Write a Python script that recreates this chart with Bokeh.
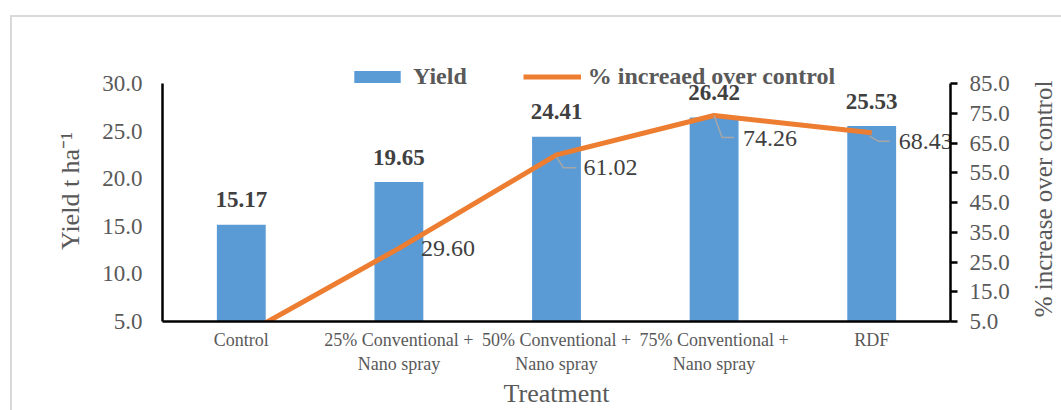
import math
from bokeh.plotting import figure
from bokeh.layouts import row
from bokeh.models import (FactorRange, Range1d, LinearAxis, ColumnDataSource,
                          Legend, LegendItem, FixedTicker, NumeralTickFormatter)
from bokeh.core.properties import value
from bokeh.embed import file_html
from bokeh.resources import INLINE

# ---------------- data ----------------
treatments = ["Control", "25% Conventional +\nNano spray", "50% Conventional +\nNano spray",
              "75% Conventional +\nNano spray", "RDF"]
yield_t_ha = [15.17, 19.65, 24.41, 26.42, 25.53]
pct_increase = [0.00, 29.60, 61.02, 74.26, 68.43]
yield_ticks = [5, 10, 15, 20, 25, 30]
pct_ticks = [5, 15, 25, 35, 45, 55, 65, 75, 85]
right_title = "% increase over control"

# label styling (screen offsets, px) for the % labels of points 2..5
lab_dx = [22, 27, 29, 27]
lab_dy = [0, 13, 23, 8.5]

FONT = "Liberation Serif"
GREY = "#595959"
DARK = "#404040"
BLUE = "#5B9BD5"
ORANGE = "#ED7D31"

# frame extends a little above the axes' top so the legend is not clipped
FRAME_PX = 238.0
TOP_PAD_PX = 23.0
pad = TOP_PAD_PX / FRAME_PX
y_end = yield_ticks[-1] + (yield_ticks[-1] - yield_ticks[0]) * pad
pct_end = pct_ticks[-1] + (pct_ticks[-1] - pct_ticks[0]) * pad

W_MAIN = 1013
W_SIDE = 36
H = 393

p = figure(width=W_MAIN, height=H, x_range=FactorRange(*treatments),
           y_range=Range1d(yield_ticks[0], y_end),
           output_backend="svg", toolbar_location=None,
           min_border_left=150, min_border_right=75, min_border_top=43, min_border_bottom=89)
p.extra_y_ranges = {"pct": Range1d(pct_ticks[0], pct_end)}

src = ColumnDataSource(dict(t=treatments, y=yield_t_ha, pct=pct_increase,
                            ylab=["%.2f" % v for v in yield_t_ha]))

bars = p.vbar(x="t", top="y", bottom=0, width=0.31, source=src,
              fill_color=BLUE, line_color=None)
line = p.line(x="t", y="pct", source=src, y_range_name="pct",
              line_width=5, line_color=ORANGE, line_join="round")

# bar value labels
p.text(x="t", y="y", text="ylab", source=src, y_offset=-25,
       text_align="center", text_baseline="middle",
       text_font=value(FONT), text_font_style="bold", text_font_size="23px",
       text_color=DARK)

# % labels
lsrc = ColumnDataSource(dict(t=treatments[1:], pct=pct_increase[1:],
                             lab=["%.2f" % v for v in pct_increase[1:]],
                             dx=lab_dx, dy=lab_dy))
p.text(x="t", y="pct", text="lab", source=lsrc, y_range_name="pct",
       x_offset="dx", y_offset="dy", text_align="left", text_baseline="middle",
       text_font=value(FONT), text_font_size="24px", text_color=DARK)

# leader lines (converted from px offsets to data units)
pxx = 788 / 5.0
pxy = FRAME_PX / (pct_ticks[-1] - pct_ticks[0])
lead_xs, lead_ys = [], []
lead_off = [[(0, 2), (7, 13), (20, 13)],
            [(0, 0), (8, 22), (20, 22)],
            [(-2, 3.5), (7, 8.5), (18, 8.5)]]
for k, offs in enumerate(lead_off):
    i = k + 2
    cx = i + 0.5
    lead_xs.append([cx + ox / pxx for ox, oy in offs])
    lead_ys.append([pct_increase[i] - oy / pxy for ox, oy in offs])
p.multi_line(xs=lead_xs, ys=lead_ys, y_range_name="pct", line_color="#A6A6A6", line_width=1.5)

# axes
p.xgrid.visible = False
p.ygrid.visible = False
p.outline_line_color = None

ya = p.yaxis[0]
ya.bounds = (yield_ticks[0], yield_ticks[-1])
ya.ticker = FixedTicker(ticks=yield_ticks)
ya.formatter = NumeralTickFormatter(format="0.0")
ya.major_tick_out = 0
ya.major_tick_in = 0
ya.minor_tick_out = 0
ya.minor_tick_in = 0
ya.axis_line_width = 2.5
ya.axis_line_color = "black"
ya.major_label_text_font = FONT
ya.major_label_text_font_size = "23px"
ya.major_label_text_color = GREY
ya.major_label_standoff = 20
ya.axis_label = "Yield t ha⁻¹"
ya.axis_label_text_font = FONT
ya.axis_label_text_font_style = "normal"
ya.axis_label_text_font_size = "26px"
ya.axis_label_text_color = GREY
ya.axis_label_standoff = 14

ra = LinearAxis(y_range_name="pct")
ra.bounds = (pct_ticks[0], pct_ticks[-1])
ra.ticker = FixedTicker(ticks=pct_ticks)
ra.formatter = NumeralTickFormatter(format="0.0")
ra.major_tick_out = 7
ra.major_tick_in = 0
ra.minor_tick_out = 0
ra.minor_tick_in = 0
ra.major_tick_line_width = 2.5
ra.major_tick_line_color = "black"
ra.axis_line_width = 2.5
ra.axis_line_color = "black"
ra.major_label_text_font = FONT
ra.major_label_text_font_size = "23px"
ra.major_label_text_color = GREY
ra.major_label_standoff = 12
p.add_layout(ra, "right")

xa = p.xaxis[0]
xa.major_tick_out = 0
xa.major_tick_in = 0
xa.axis_line_width = 2.5
xa.axis_line_color = "black"
xa.major_label_text_font = FONT
xa.major_label_text_font_size = "18px"
xa.major_label_text_color = GREY
xa.major_label_standoff = 8
xa.axis_label = "Treatment"
xa.axis_label_text_font = FONT
xa.axis_label_text_font_style = "normal"
xa.axis_label_text_font_size = "26px"
xa.axis_label_text_color = GREY
xa.axis_label_standoff = 2

legend = Legend(items=[LegendItem(label="Yield", renderers=[bars]),
                       LegendItem(label="% increaed over control", renderers=[line])],
                orientation="horizontal", location=(186, 231),
                label_text_font=FONT, label_text_font_style="bold",
                label_text_font_size="24px", label_text_color=GREY,
                glyph_width=58, glyph_height=15, spacing=56, label_standoff=7,
                padding=0, margin=0, border_line_color=None, background_fill_alpha=0)
p.add_layout(legend)

# right-hand axis title (reads bottom-to-top), drawn in a narrow side figure
# whose frame is aligned with the main frame (shared vertical range)
px_per_unit = FRAME_PX / (yield_ticks[-1] - yield_ticks[0])
title_y = yield_ticks[0] + (321 - 198.5) / px_per_unit
p2 = figure(width=W_SIDE, height=H, x_range=Range1d(0, 1), y_range=p.y_range,
            output_backend="svg", toolbar_location=None, title=None,
            min_border_left=0, min_border_right=0, min_border_top=43, min_border_bottom=89)
p2.axis.visible = False
p2.grid.visible = False
p2.outline_line_color = None
p2.text(x=[0.5], y=[title_y], text=[right_title], angle=math.pi / 2,
        text_align="center", text_baseline="middle",
        text_font=value(FONT), text_font_size="25px", text_color=GREY)

layout = row(p, p2)
layout.styles = {"margin-left": "10px", "margin-top": "15px",
                 "border-top": "2px solid #d9d9d9", "border-left": "2px solid #d9d9d9"}

open("out.html", "w").write(file_html(layout, INLINE))
